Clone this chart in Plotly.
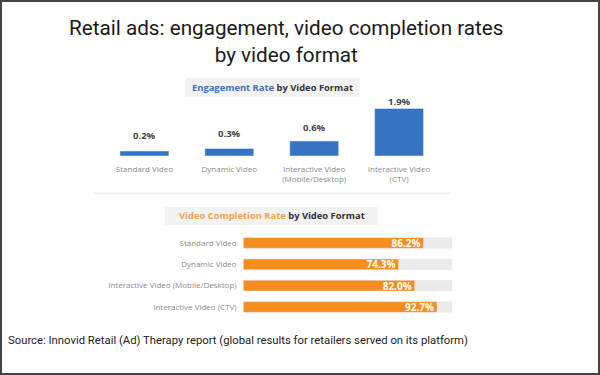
import plotly.graph_objects as go

W, H = 600, 375

# ---- data ----
eng_formats = ["Standard Video", "Dynamic Video", "Interactive Video<br>(Mobile/Desktop)", "Interactive Video<br>(CTV)"]
eng_rates = [0.2, 0.3, 0.6, 1.9]
eng_label_shift = [14, 14, 12, 5]  # px gap above bar for value label (style)

vcr_formats = ["Standard Video", "Dynamic Video", "Interactive Video (Mobile/Desktop)", "Interactive Video (CTV)"]
vcr_rates = [86.2, 74.3, 82.0, 92.7]
vcr_full = [100, 100, 100, 100]

title_text = "Retail ads: engagement, video completion rates<br>by video format"
source_text = "Source: Innovid Retail (Ad) Therapy report (global results for retailers served on its platform)"

BLUE = "#3474c2"
ORANGE = "#f68d1e"
ORANGE_LIGHT = "#f5a24a"
TRACK = "#ebebeb"
GRAYTXT = "#8a8a8a"
INFO_FONT = "Open Sans"

def px(x):
    return x / W

def py(y):
    return 1 - y / H

fig = go.Figure()

# top chart: engagement rate (vertical bars)
fig.add_trace(go.Bar(
    x=eng_formats, y=eng_rates, marker_color=BLUE, width=0.576,
    xaxis="x", yaxis="y", showlegend=False, hoverinfo="skip",
))

# bottom chart: video completion rate (horizontal bars with track)
fig.add_trace(go.Bar(
    y=vcr_formats, x=vcr_full, orientation="h", marker_color=TRACK,
    xaxis="x2", yaxis="y2", showlegend=False, hoverinfo="skip",
))
fig.add_trace(go.Bar(
    y=vcr_formats, x=vcr_rates, orientation="h", marker_color=ORANGE,
    xaxis="x2", yaxis="y2", showlegend=False, hoverinfo="skip",
    text=[f"{v:.1f}%" for v in vcr_rates], textposition="inside",
    insidetextanchor="end", constraintext="none",
    textfont=dict(family=INFO_FONT, size=10, color="white", weight="bold"),
))

annotations = []
for f, v, s in zip(eng_formats, eng_rates, eng_label_shift):
    annotations.append(dict(
        x=f, y=v, xref="x", yref="y", text=f"{v:.1f}%", showarrow=False,
        yanchor="bottom", xanchor="center", yshift=s - 7,
        font=dict(family=INFO_FONT, size=9.5, color="#444444", weight="bold"),
    ))

# subtitle boxes
annotations.append(dict(
    x=px(272.5), y=py(87.5), xref="paper", yref="paper", showarrow=False,
    xanchor="center", yanchor="middle",
    text=f"<span style='color:{BLUE}'><b>Engagement Rate</b></span> <b>by Video Format</b>",
    font=dict(family=INFO_FONT, size=9.4, color="#333333"),
))
annotations.append(dict(
    x=px(271.5), y=py(216), xref="paper", yref="paper", showarrow=False,
    xanchor="center", yanchor="middle",
    text=f"<span style='color:{ORANGE_LIGHT}'><b>Video Completion Rate</b></span> <b>by Video Format</b>",
    font=dict(family=INFO_FONT, size=9.4, color="#333333"),
))
# main title
annotations.append(dict(
    x=px(286), y=py(42), xref="paper", yref="paper", showarrow=False,
    xanchor="center", yanchor="middle",
    text=title_text, align="center",
    font=dict(family="Roboto", size=20.7, color="#1a1a1a"),
))
# source
annotations.append(dict(
    x=px(6), y=py(340), xref="paper", yref="paper", showarrow=False,
    xanchor="left", yanchor="middle", text=source_text,
    font=dict(family="Roboto", size=11.3, color="#1a1a1a"),
))

shapes = [
    dict(type="rect", xref="paper", yref="paper", x0=px(185), x1=px(360), y0=py(96.5), y1=py(78),
         fillcolor="#f2f2f2", line=dict(width=0), layer="below"),
    dict(type="rect", xref="paper", yref="paper", x0=px(165), x1=px(378), y0=py(225), y1=py(207),
         fillcolor="#f2f2f2", line=dict(width=0), layer="below"),
    dict(type="line", xref="paper", yref="paper", x0=px(93), x1=px(450), y0=py(193.3), y1=py(193.3),
         line=dict(color="#efefef", width=2)),
    dict(type="rect", xref="paper", yref="paper", x0=px(1), x1=px(599), y0=py(374), y1=py(1),
         line=dict(color="#444444", width=2), fillcolor="rgba(0,0,0,0)"),
]

fig.update_layout(
    width=W, height=H, margin=dict(l=0, r=0, t=0, b=0),
    paper_bgcolor="white", plot_bgcolor="white",
    barmode="overlay", bargap=0.5,
    annotations=annotations, shapes=shapes,
    xaxis=dict(domain=[px(102), px(441.5)], showgrid=False, zeroline=False, showline=False,
               ticks="outside", ticklen=5, tickcolor="white",
               tickfont=dict(family=INFO_FONT, size=8, color=GRAYTXT), fixedrange=True),
    yaxis=dict(domain=[py(156), py(106)], range=[0, 2.0], visible=False, fixedrange=True),
    xaxis2=dict(domain=[px(243.3), px(452.3)], range=[0, 100], visible=False, fixedrange=True),
    yaxis2=dict(domain=[py(317.7), py(232.3)], autorange="reversed", showgrid=False, zeroline=False,
                showline=False, ticks="outside", ticklen=4, tickcolor="white",
                tickfont=dict(family=INFO_FONT, size=8, color=GRAYTXT), fixedrange=True, anchor="x2"),
)

fig.write_html("out.html", config={"displayModeBar": False},
               post_script="document.body.style.margin='0px';")
